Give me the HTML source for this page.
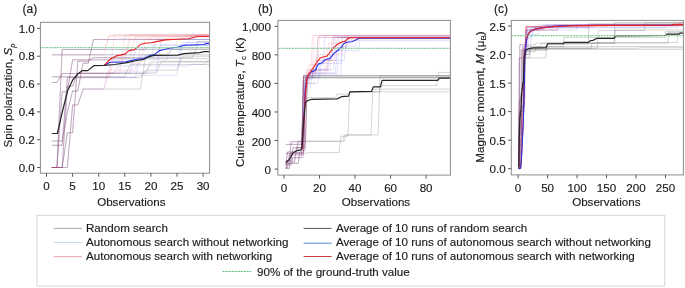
<!DOCTYPE html><html><head><meta charset="utf-8"><style>html,body{margin:0;padding:0;background:#fff;}svg{display:block;will-change:transform;}text{font-family:"Liberation Sans",sans-serif;fill:#1a1a1a;stroke:#1a1a1a;stroke-width:0.15px;}</style></head><body>
<svg width="685" height="288" viewBox="0 0 685 288">
<rect width="685" height="288" fill="#fff"/>
<defs>
<clipPath id="clipa"><rect x="40.90" y="22.80" width="168.20" height="149.90"/></clipPath>
<clipPath id="clipb"><rect x="278.40" y="20.90" width="171.50" height="153.70"/></clipPath>
<clipPath id="clipc"><rect x="511.80" y="20.90" width="171.10" height="153.50"/></clipPath>
</defs>
<g clip-path="url(#clipa)">
<polyline points="51.72,54.83 166.56,54.83 171.78,49.27 210.93,49.27" fill="none" stroke="rgba(110,110,110,0.29)" stroke-width="1.00" stroke-linejoin="round" />
<polyline points="51.72,76.81 124.80,76.81 130.02,64.43 210.93,64.43" fill="none" stroke="rgba(110,110,110,0.29)" stroke-width="1.00" stroke-linejoin="round" />
<polyline points="51.72,82.51 56.94,82.51 62.16,73.47 145.68,73.47 150.90,62.06 210.93,62.06" fill="none" stroke="rgba(110,110,110,0.29)" stroke-width="1.00" stroke-linejoin="round" />
<polyline points="51.72,141.07 62.16,141.07 67.38,111.86 72.60,90.99 77.82,90.99 83.04,63.18 88.26,63.18 93.48,39.53 210.93,39.53" fill="none" stroke="rgba(110,110,110,0.29)" stroke-width="1.00" stroke-linejoin="round" />
<polyline points="51.72,167.50 67.38,167.50 72.60,104.91 77.82,104.91 83.04,89.05 140.46,89.05 145.68,54.83 210.93,54.83" fill="none" stroke="rgba(110,110,110,0.29)" stroke-width="1.00" stroke-linejoin="round" />
<polyline points="51.72,167.50 56.94,167.50 62.16,49.54 210.93,49.54" fill="none" stroke="rgba(110,110,110,0.29)" stroke-width="1.00" stroke-linejoin="round" />
<polyline points="51.72,167.50 56.94,167.50 62.16,91.69 67.38,91.69 72.60,59.84 109.14,59.84 114.36,58.45 210.93,58.45" fill="none" stroke="rgba(110,110,110,0.29)" stroke-width="1.00" stroke-linejoin="round" />
<polyline points="51.72,167.50 62.16,167.50 67.38,86.13 72.60,86.13 77.82,73.19 156.12,73.19 161.34,61.37 210.93,61.37" fill="none" stroke="rgba(110,110,110,0.29)" stroke-width="1.00" stroke-linejoin="round" />
<polyline points="51.72,145.24 62.16,145.24 67.38,77.64 140.46,77.64 145.68,70.13 177.00,70.13 182.22,56.22 210.93,56.22" fill="none" stroke="rgba(110,110,110,0.29)" stroke-width="1.00" stroke-linejoin="round" />
<polyline points="51.72,167.50 62.16,167.50 67.38,132.72 72.60,132.72 77.82,61.23 88.26,61.23 93.48,57.61 192.66,57.61 197.88,41.48 210.93,41.48" fill="none" stroke="rgba(110,110,110,0.29)" stroke-width="1.00" stroke-linejoin="round" />
<polyline points="51.72,54.83 156.12,54.83 161.34,45.09 210.93,45.09" fill="none" stroke="rgba(60,60,230,0.15)" stroke-width="1.00" stroke-linejoin="round" />
<polyline points="51.72,76.81 135.24,76.81 140.46,75.28 177.00,75.28 182.22,42.31 210.93,42.31" fill="none" stroke="rgba(60,60,230,0.15)" stroke-width="1.00" stroke-linejoin="round" />
<polyline points="51.72,82.51 56.94,82.51 62.16,73.47 109.14,73.47 114.36,71.94 156.12,71.94 161.34,39.53 210.93,39.53" fill="none" stroke="rgba(60,60,230,0.15)" stroke-width="1.00" stroke-linejoin="round" />
<polyline points="51.72,141.07 62.16,141.07 67.38,111.86 72.60,90.99 77.82,90.99 83.04,63.18 88.26,63.18 93.48,39.53 187.44,39.53 192.66,35.36 210.93,35.36" fill="none" stroke="rgba(60,60,230,0.15)" stroke-width="1.00" stroke-linejoin="round" />
<polyline points="51.72,167.50 67.38,167.50 72.60,104.91 77.82,104.91 83.04,89.05 103.92,89.05 109.14,65.96 187.44,65.96 192.66,64.57 203.10,64.57 208.32,60.39 210.93,60.39" fill="none" stroke="rgba(60,60,230,0.15)" stroke-width="1.00" stroke-linejoin="round" />
<polyline points="51.72,167.50 56.94,167.50 62.16,49.54 145.68,49.54 150.90,45.09 210.93,45.09" fill="none" stroke="rgba(60,60,230,0.15)" stroke-width="1.00" stroke-linejoin="round" />
<polyline points="51.72,167.50 56.94,167.50 62.16,91.69 67.38,91.69 72.60,59.84 166.56,59.84 171.78,47.87 210.93,47.87" fill="none" stroke="rgba(60,60,230,0.15)" stroke-width="1.00" stroke-linejoin="round" />
<polyline points="51.72,167.50 62.16,167.50 67.38,86.13 72.60,86.13 77.82,73.19 130.02,73.19 135.24,49.27 182.22,49.27 187.44,42.31 210.93,42.31" fill="none" stroke="rgba(60,60,230,0.15)" stroke-width="1.00" stroke-linejoin="round" />
<polyline points="51.72,145.24 62.16,145.24 67.38,77.64 135.24,77.64 140.46,56.22 177.00,56.22 182.22,45.09 210.93,45.09" fill="none" stroke="rgba(60,60,230,0.15)" stroke-width="1.00" stroke-linejoin="round" />
<polyline points="51.72,167.50 62.16,167.50 67.38,132.72 72.60,132.72 77.82,61.23 88.26,61.23 93.48,57.61 150.90,57.61 156.12,39.53 210.93,39.53" fill="none" stroke="rgba(60,60,230,0.15)" stroke-width="1.00" stroke-linejoin="round" />
<polyline points="51.72,54.83 103.92,54.83 109.14,35.91 210.93,35.91" fill="none" stroke="rgba(230,60,80,0.15)" stroke-width="1.00" stroke-linejoin="round" />
<polyline points="51.72,76.81 109.14,76.81 114.36,34.52 210.93,34.52" fill="none" stroke="rgba(230,60,80,0.15)" stroke-width="1.00" stroke-linejoin="round" />
<polyline points="51.72,82.51 56.94,82.51 62.16,73.47 119.58,73.47 124.80,35.36 210.93,35.36" fill="none" stroke="rgba(230,60,80,0.15)" stroke-width="1.00" stroke-linejoin="round" />
<polyline points="51.72,141.07 62.16,141.07 67.38,111.86 72.60,90.99 77.82,90.99 83.04,63.18 88.26,63.18 93.48,39.53 114.36,39.53 119.58,38.83 192.66,38.83 197.88,34.52 210.93,34.52" fill="none" stroke="rgba(230,60,80,0.15)" stroke-width="1.00" stroke-linejoin="round" />
<polyline points="51.72,167.50 67.38,167.50 72.60,104.91 77.82,104.91 83.04,89.05 103.92,89.05 109.14,70.13 135.24,70.13 140.46,49.27 145.68,49.27 150.90,36.75 210.93,36.75" fill="none" stroke="rgba(230,60,80,0.15)" stroke-width="1.00" stroke-linejoin="round" />
<polyline points="51.72,167.50 56.94,167.50 62.16,49.54 103.92,49.54 109.14,35.91 210.93,35.91" fill="none" stroke="rgba(230,60,80,0.15)" stroke-width="1.00" stroke-linejoin="round" />
<polyline points="51.72,167.50 56.94,167.50 62.16,91.69 67.38,91.69 72.60,59.84 124.80,59.84 130.02,39.53 166.56,39.53 171.78,35.91 210.93,35.91" fill="none" stroke="rgba(230,60,80,0.15)" stroke-width="1.00" stroke-linejoin="round" />
<polyline points="51.72,167.50 62.16,167.50 67.38,86.13 72.60,86.13 77.82,73.19 114.36,73.19 119.58,63.18 140.46,63.18 145.68,39.53 182.22,39.53 187.44,35.36 210.93,35.36" fill="none" stroke="rgba(230,60,80,0.15)" stroke-width="1.00" stroke-linejoin="round" />
<polyline points="51.72,145.24 62.16,145.24 67.38,77.64 109.14,77.64 114.36,56.22 124.80,56.22 130.02,34.52 210.93,34.52" fill="none" stroke="rgba(230,60,80,0.15)" stroke-width="1.00" stroke-linejoin="round" />
<polyline points="51.72,167.50 62.16,167.50 67.38,132.72 72.60,132.72 77.82,61.23 88.26,61.23 93.48,57.61 130.02,57.61 135.24,36.75 210.93,36.75" fill="none" stroke="rgba(230,60,80,0.15)" stroke-width="1.00" stroke-linejoin="round" />
<polyline points="104.20,65.40 110.00,62.30 125.60,61.90 137.00,59.30 143.90,58.50 149.10,55.90 154.20,54.60 159.50,50.80 169.10,48.30 178.60,47.00 184.40,45.20 204.00,44.50 206.00,43.60 210.00,43.40" fill="none" stroke="#2633e8" stroke-width="1.10" stroke-linejoin="round" />
<polyline points="104.20,65.40 110.00,59.30 116.10,55.90 124.80,54.10 129.10,50.60 134.30,49.80 140.40,44.60 144.70,43.20 150.80,42.80 154.00,42.10 165.30,39.90 176.70,39.30 188.20,38.70 197.70,36.50 210.00,36.50" fill="none" stroke="#e82424" stroke-width="1.10" stroke-linejoin="round" />
<polyline points="51.80,133.50 57.30,133.50 62.30,112.00 67.50,91.00 72.70,80.00 77.80,74.00 82.40,70.60 87.70,70.60 93.70,65.70 104.20,65.40 114.40,64.50 125.60,62.80 137.00,60.50 143.90,59.30 149.10,56.70 154.00,55.30 178.00,55.20 184.00,53.60 200.00,52.70 204.00,51.70 210.00,51.70" fill="none" stroke="#262626" stroke-width="1.20" stroke-linejoin="round" />
<line x1="40.40" y1="47.65" x2="209.60" y2="47.65" stroke="#86cc9e" stroke-width="1.3" stroke-dasharray="2,0.8"/>
</g>
<g clip-path="url(#clipb)">
<polyline points="285.78,144.40 301.76,144.40 303.54,75.85 452.75,75.85" fill="none" stroke="rgba(110,110,110,0.29)" stroke-width="1.00" stroke-linejoin="round" />
<polyline points="285.78,153.39 305.32,153.39 307.09,152.54 339.07,152.54 340.84,136.26 347.95,136.26 349.72,91.85 452.75,91.85" fill="none" stroke="rgba(110,110,110,0.29)" stroke-width="1.00" stroke-linejoin="round" />
<polyline points="285.78,169.10 287.55,160.53 289.33,160.53 291.11,141.68 303.54,141.68 305.32,77.71 452.75,77.71" fill="none" stroke="rgba(110,110,110,0.29)" stroke-width="1.00" stroke-linejoin="round" />
<polyline points="285.78,167.67 287.55,167.67 289.33,154.82 303.54,154.82 305.32,77.71 452.75,77.71" fill="none" stroke="rgba(110,110,110,0.29)" stroke-width="1.00" stroke-linejoin="round" />
<polyline points="285.78,164.82 291.11,164.82 292.88,157.68 301.76,157.68 303.54,75.85 452.75,75.85" fill="none" stroke="rgba(110,110,110,0.29)" stroke-width="1.00" stroke-linejoin="round" />
<polyline points="285.78,161.96 294.66,161.96 296.43,147.68 305.32,147.68 307.09,77.71 452.75,77.71" fill="none" stroke="rgba(110,110,110,0.29)" stroke-width="1.00" stroke-linejoin="round" />
<polyline points="285.78,160.53 291.11,160.53 292.88,147.68 303.54,147.68 305.32,97.70 335.51,97.70 337.29,94.13 347.95,94.13 349.72,91.85 379.92,91.85 381.70,85.56 436.76,85.56 438.54,72.42 452.75,72.42" fill="none" stroke="rgba(110,110,110,0.29)" stroke-width="1.00" stroke-linejoin="round" />
<polyline points="285.78,168.39 289.33,168.39 291.11,152.54 303.54,152.54 305.32,141.25 342.62,141.25 344.39,134.97 371.04,134.97 372.81,89.13 452.75,89.13" fill="none" stroke="rgba(110,110,110,0.29)" stroke-width="1.00" stroke-linejoin="round" />
<polyline points="285.78,163.39 298.21,163.39 299.99,150.54 301.76,150.54 303.54,75.85 452.75,75.85" fill="none" stroke="rgba(110,110,110,0.29)" stroke-width="1.00" stroke-linejoin="round" />
<polyline points="285.78,165.53 287.55,151.96 296.43,151.96 298.21,141.25 307.09,141.25 308.87,141.25 344.39,141.25 346.17,134.97 378.14,134.97 379.92,75.85 452.75,75.85" fill="none" stroke="rgba(110,110,110,0.29)" stroke-width="1.00" stroke-linejoin="round" />
<polyline points="285.78,144.40 301.76,144.40 303.54,76.28 315.97,76.28 317.75,37.44 452.75,37.44" fill="none" stroke="rgba(60,60,230,0.15)" stroke-width="1.00" stroke-linejoin="round" />
<polyline points="285.78,153.39 301.76,153.39 303.54,83.42 308.87,83.42 310.64,69.57 333.74,69.57 335.51,37.44 452.75,37.44" fill="none" stroke="rgba(60,60,230,0.15)" stroke-width="1.00" stroke-linejoin="round" />
<polyline points="285.78,169.10 287.55,160.53 289.33,160.53 291.11,141.68 303.54,141.68 305.32,77.71 312.42,77.71 314.20,64.86 323.08,64.86 324.85,35.44 452.75,35.44" fill="none" stroke="rgba(60,60,230,0.15)" stroke-width="1.00" stroke-linejoin="round" />
<polyline points="285.78,167.67 287.55,167.67 289.33,154.82 301.76,154.82 303.54,80.56 307.09,80.56 308.87,73.14 337.29,73.14 339.07,37.44 452.75,37.44" fill="none" stroke="rgba(60,60,230,0.15)" stroke-width="1.00" stroke-linejoin="round" />
<polyline points="285.78,164.82 291.11,164.82 292.88,157.68 303.54,157.68 305.32,74.85 340.84,74.85 342.62,37.44 452.75,37.44" fill="none" stroke="rgba(60,60,230,0.15)" stroke-width="1.00" stroke-linejoin="round" />
<polyline points="285.78,161.96 294.66,161.96 296.43,147.68 303.54,147.68 305.32,86.28 310.64,86.28 312.42,70.57 326.63,70.57 328.41,60.57 344.39,60.57 346.17,37.44 452.75,37.44" fill="none" stroke="rgba(60,60,230,0.15)" stroke-width="1.00" stroke-linejoin="round" />
<polyline points="285.78,160.53 291.11,160.53 292.88,147.68 301.76,147.68 303.54,77.71 319.53,77.71 321.30,59.14 331.96,59.14 333.74,36.30 452.75,36.30" fill="none" stroke="rgba(60,60,230,0.15)" stroke-width="1.00" stroke-linejoin="round" />
<polyline points="285.78,168.39 289.33,168.39 291.11,152.54 303.54,152.54 305.32,83.42 317.75,83.42 319.53,63.43 340.84,63.43 342.62,46.29 355.05,46.29 356.83,37.44 452.75,37.44" fill="none" stroke="rgba(60,60,230,0.15)" stroke-width="1.00" stroke-linejoin="round" />
<polyline points="285.78,163.39 298.21,163.39 299.99,150.54 305.32,150.54 307.09,79.14 312.42,79.14 314.20,69.14 328.41,69.14 330.18,50.58 358.60,50.58 360.38,37.44 452.75,37.44" fill="none" stroke="rgba(60,60,230,0.15)" stroke-width="1.00" stroke-linejoin="round" />
<polyline points="285.78,165.53 287.55,151.96 296.43,151.96 298.21,141.25 305.32,141.25 307.09,89.13 308.87,73.14 335.51,73.14 337.29,47.72 346.17,47.72 347.95,40.58 452.75,40.58" fill="none" stroke="rgba(60,60,230,0.15)" stroke-width="1.00" stroke-linejoin="round" />
<polyline points="285.78,144.40 301.76,144.40 303.54,76.28 310.64,76.28 312.42,35.44 452.75,35.44" fill="none" stroke="rgba(230,60,80,0.15)" stroke-width="1.00" stroke-linejoin="round" />
<polyline points="285.78,153.39 303.54,153.39 305.32,83.42 307.09,69.14 315.97,69.14 317.75,37.44 452.75,37.44" fill="none" stroke="rgba(230,60,80,0.15)" stroke-width="1.00" stroke-linejoin="round" />
<polyline points="285.78,169.10 287.55,160.53 289.33,160.53 291.11,141.68 301.76,141.68 303.54,77.71 307.09,77.71 308.87,64.86 317.75,64.86 319.53,35.44 452.75,35.44" fill="none" stroke="rgba(230,60,80,0.15)" stroke-width="1.00" stroke-linejoin="round" />
<polyline points="285.78,167.67 287.55,167.67 289.33,154.82 303.54,154.82 305.32,80.56 307.09,70.57 330.18,70.57 331.96,37.44 452.75,37.44" fill="none" stroke="rgba(230,60,80,0.15)" stroke-width="1.00" stroke-linejoin="round" />
<polyline points="285.78,164.82 291.11,164.82 292.88,157.68 301.76,157.68 303.54,74.85 312.42,74.85 314.20,60.57 335.51,60.57 337.29,37.44 452.75,37.44" fill="none" stroke="rgba(230,60,80,0.15)" stroke-width="1.00" stroke-linejoin="round" />
<polyline points="285.78,161.96 294.66,161.96 296.43,147.68 305.32,147.68 307.09,86.28 308.87,72.00 315.97,72.00 317.75,54.86 340.84,54.86 342.62,37.44 452.75,37.44" fill="none" stroke="rgba(230,60,80,0.15)" stroke-width="1.00" stroke-linejoin="round" />
<polyline points="285.78,160.53 291.11,160.53 292.88,147.68 301.76,147.68 303.54,77.71 312.42,77.71 314.20,35.44 452.75,35.44" fill="none" stroke="rgba(230,60,80,0.15)" stroke-width="1.00" stroke-linejoin="round" />
<polyline points="285.78,168.39 289.33,168.39 291.11,152.54 303.54,152.54 305.32,83.42 314.20,83.42 315.97,60.57 331.96,60.57 333.74,37.44 452.75,37.44" fill="none" stroke="rgba(230,60,80,0.15)" stroke-width="1.00" stroke-linejoin="round" />
<polyline points="285.78,163.39 298.21,163.39 299.99,150.54 303.54,150.54 305.32,79.14 308.87,79.14 310.64,69.57 324.85,69.57 326.63,47.72 346.17,47.72 347.95,37.44 452.75,37.44" fill="none" stroke="rgba(230,60,80,0.15)" stroke-width="1.00" stroke-linejoin="round" />
<polyline points="285.78,165.53 287.55,151.96 296.43,151.96 298.21,141.25 305.32,141.25 307.09,89.13 308.87,73.14 326.63,73.14 328.41,43.44 349.72,43.44 351.50,39.15 452.75,39.15" fill="none" stroke="rgba(230,60,80,0.15)" stroke-width="1.00" stroke-linejoin="round" />
<polyline points="301.80,148.90 303.50,122.00 305.30,90.00 307.10,77.00 308.90,74.50 311.50,71.70 315.00,70.80 318.40,63.90 321.90,63.00 325.40,59.50 329.70,58.60 334.00,53.40 338.40,50.00 341.90,46.50 344.40,43.20 346.50,42.20 351.70,41.70 355.80,40.10 359.00,38.30 452.00,38.30" fill="none" stroke="#2633e8" stroke-width="1.10" stroke-linejoin="round" />
<polyline points="301.80,148.90 303.50,126.00 305.30,96.00 307.10,79.00 308.90,73.50 310.50,71.80 312.40,69.00 317.60,61.25 320.20,57.80 327.10,56.00 332.30,49.10 336.70,44.80 341.00,42.20 345.40,41.10 348.00,38.50 351.70,37.70 452.00,37.70" fill="none" stroke="#e82424" stroke-width="1.10" stroke-linejoin="round" />
<polyline points="285.80,162.40 287.40,161.20 289.20,159.30 290.80,157.00 292.20,154.50 293.50,152.50 295.30,151.30 297.10,150.70 299.50,150.20 301.80,148.90 303.50,124.00 305.30,103.00 307.10,100.90 311.50,99.30 337.10,98.90 341.50,96.70 348.60,96.20 349.80,91.80 371.50,91.40 373.30,86.90 380.40,86.90 382.10,80.30 437.80,80.30 439.50,78.20 452.00,78.20" fill="none" stroke="#262626" stroke-width="1.20" stroke-linejoin="round" />
<line x1="277.90" y1="48.3" x2="450.40" y2="48.3" stroke="#86cc9e" stroke-width="1.3" stroke-dasharray="2,0.8"/>
</g>
<g clip-path="url(#clipc)">
<polyline points="518.69,168.70 519.28,57.96 545.81,57.96 546.40,44.27 588.26,44.27 588.85,23.72 686.14,23.72" fill="none" stroke="rgba(110,110,110,0.29)" stroke-width="1.00" stroke-linejoin="round" />
<polyline points="518.69,168.70 519.28,168.70 519.87,44.84 535.20,44.84 535.79,43.12 614.20,43.12 614.79,22.58 686.14,22.58" fill="none" stroke="rgba(110,110,110,0.29)" stroke-width="1.00" stroke-linejoin="round" />
<polyline points="518.69,165.85 519.28,100.20 521.05,100.20 521.64,88.79 523.41,88.79 524.00,49.97 546.99,49.97 547.58,46.55 686.14,46.55" fill="none" stroke="rgba(110,110,110,0.29)" stroke-width="1.00" stroke-linejoin="round" />
<polyline points="518.69,168.70 519.87,168.70 520.46,114.47 523.41,114.47 524.00,48.26 597.11,48.26 597.70,42.55 677.29,42.55 677.88,33.42 686.14,33.42" fill="none" stroke="rgba(110,110,110,0.29)" stroke-width="1.00" stroke-linejoin="round" />
<polyline points="518.69,162.99 519.28,117.33 520.46,117.33 521.05,94.50 523.41,94.50 524.00,54.54 529.30,54.54 529.89,49.40 686.14,49.40" fill="none" stroke="rgba(110,110,110,0.29)" stroke-width="1.00" stroke-linejoin="round" />
<polyline points="518.69,166.99 519.28,166.99 519.87,140.16 521.64,140.16 522.23,105.91 524.59,105.91 525.18,57.96 529.89,57.96 530.48,48.26 638.38,48.26 638.97,47.69 686.14,47.69" fill="none" stroke="rgba(110,110,110,0.29)" stroke-width="1.00" stroke-linejoin="round" />
<polyline points="518.69,168.70 519.28,111.62 522.23,111.62 522.82,46.55 541.09,46.55 541.68,43.12 597.70,43.12 598.29,30.57 644.27,30.57 644.86,22.58 686.14,22.58" fill="none" stroke="rgba(110,110,110,0.29)" stroke-width="1.00" stroke-linejoin="round" />
<polyline points="518.69,168.70 519.28,168.70 519.87,145.87 521.05,145.87 521.64,111.62 524.00,111.62 524.59,51.69 535.20,51.69 535.79,46.55 563.50,46.55 564.09,37.42 664.91,37.42 665.50,31.71 686.14,31.71" fill="none" stroke="rgba(110,110,110,0.29)" stroke-width="1.00" stroke-linejoin="round" />
<polyline points="518.69,167.56 519.28,134.45 521.05,134.45 521.64,49.97 546.99,49.97 547.58,48.26 591.21,48.26 591.80,43.12 667.86,43.12 668.45,32.28 686.14,32.28" fill="none" stroke="rgba(110,110,110,0.29)" stroke-width="1.00" stroke-linejoin="round" />
<polyline points="518.69,168.70 519.87,168.70 520.46,151.58 521.05,151.58 521.64,114.47 523.41,114.47 524.00,54.54 529.30,54.54 529.89,48.26 546.99,48.26 547.58,43.12 614.79,43.12 615.38,30.00 686.14,30.00" fill="none" stroke="rgba(110,110,110,0.29)" stroke-width="1.00" stroke-linejoin="round" />
<polyline points="518.69,168.70 519.28,57.96 524.59,57.96 525.18,37.42 526.94,37.42 527.53,27.71 535.20,27.71 535.79,25.20 686.14,25.20" fill="none" stroke="rgba(60,60,230,0.15)" stroke-width="1.00" stroke-linejoin="round" />
<polyline points="518.69,168.70 519.28,168.70 519.87,44.84 525.76,44.84 526.35,30.00 541.09,30.00 541.68,25.20 686.14,25.20" fill="none" stroke="rgba(60,60,230,0.15)" stroke-width="1.00" stroke-linejoin="round" />
<polyline points="518.69,165.85 519.28,100.20 521.05,100.20 521.64,88.79 523.41,88.79 524.00,49.97 525.18,49.97 525.76,34.56 529.30,34.56 529.89,27.71 552.89,27.71 553.48,25.20 686.14,25.20" fill="none" stroke="rgba(60,60,230,0.15)" stroke-width="1.00" stroke-linejoin="round" />
<polyline points="518.69,168.70 519.87,168.70 520.46,114.47 523.41,114.47 524.00,48.26 526.35,48.26 526.94,30.00 535.20,30.00 535.79,27.71 588.26,27.71 588.85,25.20 686.14,25.20" fill="none" stroke="rgba(60,60,230,0.15)" stroke-width="1.00" stroke-linejoin="round" />
<polyline points="518.69,162.99 519.28,117.33 520.46,117.33 521.05,94.50 523.41,94.50 524.00,54.54 525.18,54.54 525.76,27.71 545.22,27.71 545.81,25.20 686.14,25.20" fill="none" stroke="rgba(60,60,230,0.15)" stroke-width="1.00" stroke-linejoin="round" />
<polyline points="518.69,166.99 519.28,166.99 519.87,140.16 521.64,140.16 522.23,105.91 524.59,105.91 525.18,57.96 525.76,57.96 526.35,37.42 532.25,37.42 532.84,30.00 576.47,30.00 577.06,25.20 686.14,25.20" fill="none" stroke="rgba(60,60,230,0.15)" stroke-width="1.00" stroke-linejoin="round" />
<polyline points="518.69,168.70 519.28,111.62 522.23,111.62 522.82,46.55 526.94,46.55 527.53,30.00 544.04,30.00 544.63,25.20 686.14,25.20" fill="none" stroke="rgba(60,60,230,0.15)" stroke-width="1.00" stroke-linejoin="round" />
<polyline points="518.69,168.70 519.28,168.70 519.87,145.87 521.05,145.87 521.64,111.62 524.00,111.62 524.59,51.69 528.12,51.69 528.71,34.56 538.15,34.56 538.74,27.71 678.47,27.71 679.06,24.29 686.14,24.29" fill="none" stroke="rgba(60,60,230,0.15)" stroke-width="1.00" stroke-linejoin="round" />
<polyline points="518.69,167.56 519.28,134.45 521.05,134.45 521.64,49.97 530.48,49.97 531.07,30.00 558.78,30.00 559.37,25.20 686.14,25.20" fill="none" stroke="rgba(60,60,230,0.15)" stroke-width="1.00" stroke-linejoin="round" />
<polyline points="518.69,168.70 519.87,168.70 520.46,151.58 521.05,151.58 521.64,114.47 523.41,114.47 524.00,54.54 526.94,54.54 527.53,31.71 534.02,31.71 534.61,27.71 664.91,27.71 665.50,25.20 686.14,25.20" fill="none" stroke="rgba(60,60,230,0.15)" stroke-width="1.00" stroke-linejoin="round" />
<polyline points="518.69,168.70 519.28,57.96 525.76,57.96 526.35,26.57 576.47,26.57 577.06,25.20 686.14,25.20" fill="none" stroke="rgba(230,60,80,0.15)" stroke-width="1.00" stroke-linejoin="round" />
<polyline points="518.69,168.70 519.28,168.70 519.87,44.84 525.76,44.84 526.35,30.00 557.01,30.00 557.60,26.57 605.95,26.57 606.54,25.20 686.14,25.20" fill="none" stroke="rgba(230,60,80,0.15)" stroke-width="1.00" stroke-linejoin="round" />
<polyline points="518.69,165.85 519.28,100.20 521.05,100.20 521.64,88.79 523.41,88.79 524.00,49.97 525.18,49.97 525.76,26.57 571.75,26.57 572.34,25.20 686.14,25.20" fill="none" stroke="rgba(230,60,80,0.15)" stroke-width="1.00" stroke-linejoin="round" />
<polyline points="518.69,168.70 519.87,168.70 520.46,114.47 523.41,114.47 524.00,48.26 525.76,48.26 526.35,26.57 552.89,26.57 553.48,25.20 686.14,25.20" fill="none" stroke="rgba(230,60,80,0.15)" stroke-width="1.00" stroke-linejoin="round" />
<polyline points="518.69,162.99 519.28,117.33 520.46,117.33 521.05,94.50 523.41,94.50 524.00,54.54 525.18,54.54 525.76,26.57 541.09,26.57 541.68,25.20 686.14,25.20" fill="none" stroke="rgba(230,60,80,0.15)" stroke-width="1.00" stroke-linejoin="round" />
<polyline points="518.69,166.99 519.28,166.99 519.87,140.16 521.64,140.16 522.23,105.91 524.59,105.91 525.18,57.96 525.76,57.96 526.35,30.00 557.01,30.00 557.60,26.57 594.16,26.57 594.75,25.20 686.14,25.20" fill="none" stroke="rgba(230,60,80,0.15)" stroke-width="1.00" stroke-linejoin="round" />
<polyline points="518.69,168.70 519.28,111.62 522.23,111.62 522.82,46.55 525.18,46.55 525.76,26.57 564.68,26.57 565.27,25.20 686.14,25.20" fill="none" stroke="rgba(230,60,80,0.15)" stroke-width="1.00" stroke-linejoin="round" />
<polyline points="518.69,168.70 519.28,168.70 519.87,145.87 521.05,145.87 521.64,111.62 524.00,111.62 524.59,51.69 525.76,51.69 526.35,26.57 546.99,26.57 547.58,25.20 686.14,25.20" fill="none" stroke="rgba(230,60,80,0.15)" stroke-width="1.00" stroke-linejoin="round" />
<polyline points="518.69,167.56 519.28,134.45 521.05,134.45 521.64,49.97 525.18,49.97 525.76,30.00 532.25,30.00 532.84,26.57 678.47,26.57 679.06,22.29 686.14,22.29" fill="none" stroke="rgba(230,60,80,0.15)" stroke-width="1.00" stroke-linejoin="round" />
<polyline points="518.69,168.70 519.87,168.70 520.46,151.58 521.05,151.58 521.64,114.47 523.41,114.47 524.00,54.54 525.76,54.54 526.35,26.57 588.26,26.57 588.85,25.20 686.14,25.20" fill="none" stroke="rgba(230,60,80,0.15)" stroke-width="1.00" stroke-linejoin="round" />
<polyline points="518.70,168.50 520.60,168.20 521.30,160.00 522.20,141.00 523.00,125.00 523.50,110.00 524.00,90.00 524.40,70.00 524.60,58.00 525.50,46.00 526.80,38.40" fill="none" stroke="#e82424" stroke-width="1.10" stroke-linejoin="round" />
<polyline points="518.70,168.50 520.60,168.20 521.40,160.00 522.40,141.00 523.20,125.00 523.70,110.00 524.20,90.00 524.60,70.00 524.90,58.00 525.80,45.00 527.00,37.40 528.80,33.00 531.40,30.40 534.90,29.10 539.20,28.20 546.00,27.20 554.70,26.30 560.00,25.90 571.00,25.50 600.00,25.30 672.50,25.25 673.50,24.50 685.00,24.50" fill="none" stroke="#2633e8" stroke-width="1.10" stroke-linejoin="round" />
<polyline points="526.80,38.40 528.70,33.40 531.30,30.80 534.80,29.40 539.10,28.40 546.00,27.50 554.70,26.60 560.00,26.30 571.00,25.70 600.00,25.35 672.50,25.20 673.50,24.40 685.00,24.40" fill="none" stroke="#e82424" stroke-width="1.10" stroke-linejoin="round" />
<polyline points="518.69,167.56 519.28,136.34 519.87,118.98 520.46,111.85 521.05,109.57 521.64,92.84 522.23,89.42 522.82,82.91 523.41,82.91 524.00,62.42 524.59,56.42 525.18,51.63 526.10,49.90 528.90,48.50 533.00,47.80 546.00,47.60 547.80,43.75 563.40,43.75 564.30,42.40 588.60,42.40 590.30,40.60 592.90,40.40 597.00,38.30 614.30,38.30 615.30,35.80 665.70,35.50 667.00,34.20 678.90,34.20 680.30,33.10 685.00,33.10" fill="none" stroke="#262626" stroke-width="1.20" stroke-linejoin="round" />
<line x1="511.30" y1="35.6" x2="683.40" y2="35.6" stroke="#86cc9e" stroke-width="1.3" stroke-dasharray="2,0.8"/>
</g>
<rect x="40.40" y="22.30" width="169.20" height="150.90" fill="none" stroke="#8c8c8c" stroke-width="1"/>
<line x1="46.50" y1="173.20" x2="46.50" y2="176.70" stroke="#555" stroke-width="1"/>
<text x="46.50" y="190.00" font-size="11.6" text-anchor="middle">0</text>
<line x1="72.60" y1="173.20" x2="72.60" y2="176.70" stroke="#555" stroke-width="1"/>
<text x="72.60" y="190.00" font-size="11.6" text-anchor="middle">5</text>
<line x1="98.70" y1="173.20" x2="98.70" y2="176.70" stroke="#555" stroke-width="1"/>
<text x="98.70" y="190.00" font-size="11.6" text-anchor="middle">10</text>
<line x1="124.80" y1="173.20" x2="124.80" y2="176.70" stroke="#555" stroke-width="1"/>
<text x="124.80" y="190.00" font-size="11.6" text-anchor="middle">15</text>
<line x1="150.90" y1="173.20" x2="150.90" y2="176.70" stroke="#555" stroke-width="1"/>
<text x="150.90" y="190.00" font-size="11.6" text-anchor="middle">20</text>
<line x1="177.00" y1="173.20" x2="177.00" y2="176.70" stroke="#555" stroke-width="1"/>
<text x="177.00" y="190.00" font-size="11.6" text-anchor="middle">25</text>
<line x1="203.10" y1="173.20" x2="203.10" y2="176.70" stroke="#555" stroke-width="1"/>
<text x="203.10" y="190.00" font-size="11.6" text-anchor="middle">30</text>
<line x1="37.10" y1="167.50" x2="40.40" y2="167.50" stroke="#555" stroke-width="1"/>
<text x="34.80" y="171.60" font-size="11.6" text-anchor="end">0.0</text>
<line x1="37.10" y1="139.68" x2="40.40" y2="139.68" stroke="#555" stroke-width="1"/>
<text x="34.80" y="143.78" font-size="11.6" text-anchor="end">0.2</text>
<line x1="37.10" y1="111.86" x2="40.40" y2="111.86" stroke="#555" stroke-width="1"/>
<text x="34.80" y="115.96" font-size="11.6" text-anchor="end">0.4</text>
<line x1="37.10" y1="84.04" x2="40.40" y2="84.04" stroke="#555" stroke-width="1"/>
<text x="34.80" y="88.14" font-size="11.6" text-anchor="end">0.6</text>
<line x1="37.10" y1="56.22" x2="40.40" y2="56.22" stroke="#555" stroke-width="1"/>
<text x="34.80" y="60.32" font-size="11.6" text-anchor="end">0.8</text>
<line x1="37.10" y1="28.40" x2="40.40" y2="28.40" stroke="#555" stroke-width="1"/>
<text x="34.80" y="32.50" font-size="11.6" text-anchor="end">1.0</text>
<rect x="277.90" y="20.40" width="172.50" height="154.70" fill="none" stroke="#8c8c8c" stroke-width="1"/>
<line x1="284.00" y1="175.10" x2="284.00" y2="178.60" stroke="#555" stroke-width="1"/>
<text x="284.00" y="191.60" font-size="11.6" text-anchor="middle">0</text>
<line x1="319.53" y1="175.10" x2="319.53" y2="178.60" stroke="#555" stroke-width="1"/>
<text x="319.53" y="191.60" font-size="11.6" text-anchor="middle">20</text>
<line x1="355.05" y1="175.10" x2="355.05" y2="178.60" stroke="#555" stroke-width="1"/>
<text x="355.05" y="191.60" font-size="11.6" text-anchor="middle">40</text>
<line x1="390.58" y1="175.10" x2="390.58" y2="178.60" stroke="#555" stroke-width="1"/>
<text x="390.58" y="191.60" font-size="11.6" text-anchor="middle">60</text>
<line x1="426.10" y1="175.10" x2="426.10" y2="178.60" stroke="#555" stroke-width="1"/>
<text x="426.10" y="191.60" font-size="11.6" text-anchor="middle">80</text>
<line x1="274.60" y1="169.10" x2="277.90" y2="169.10" stroke="#555" stroke-width="1"/>
<text x="271.00" y="174.10" font-size="11.6" text-anchor="end">0</text>
<line x1="274.60" y1="140.54" x2="277.90" y2="140.54" stroke="#555" stroke-width="1"/>
<text x="271.00" y="145.54" font-size="11.6" text-anchor="end">200</text>
<line x1="274.60" y1="111.98" x2="277.90" y2="111.98" stroke="#555" stroke-width="1"/>
<text x="271.00" y="116.98" font-size="11.6" text-anchor="end">400</text>
<line x1="274.60" y1="83.42" x2="277.90" y2="83.42" stroke="#555" stroke-width="1"/>
<text x="271.00" y="88.42" font-size="11.6" text-anchor="end">600</text>
<line x1="274.60" y1="54.86" x2="277.90" y2="54.86" stroke="#555" stroke-width="1"/>
<text x="271.00" y="59.86" font-size="11.6" text-anchor="end">800</text>
<line x1="274.60" y1="26.30" x2="277.90" y2="26.30" stroke="#555" stroke-width="1"/>
<text x="271.00" y="31.30" font-size="11.6" text-anchor="end">1,000</text>
<rect x="511.30" y="20.40" width="172.10" height="154.50" fill="none" stroke="#8c8c8c" stroke-width="1"/>
<line x1="518.10" y1="174.90" x2="518.10" y2="178.40" stroke="#555" stroke-width="1"/>
<text x="518.10" y="191.60" font-size="11.6" text-anchor="middle">0</text>
<line x1="547.58" y1="174.90" x2="547.58" y2="178.40" stroke="#555" stroke-width="1"/>
<text x="547.58" y="191.60" font-size="11.6" text-anchor="middle">50</text>
<line x1="577.06" y1="174.90" x2="577.06" y2="178.40" stroke="#555" stroke-width="1"/>
<text x="577.06" y="191.60" font-size="11.6" text-anchor="middle">100</text>
<line x1="606.54" y1="174.90" x2="606.54" y2="178.40" stroke="#555" stroke-width="1"/>
<text x="606.54" y="191.60" font-size="11.6" text-anchor="middle">150</text>
<line x1="636.02" y1="174.90" x2="636.02" y2="178.40" stroke="#555" stroke-width="1"/>
<text x="636.02" y="191.60" font-size="11.6" text-anchor="middle">200</text>
<line x1="665.50" y1="174.90" x2="665.50" y2="178.40" stroke="#555" stroke-width="1"/>
<text x="665.50" y="191.60" font-size="11.6" text-anchor="middle">250</text>
<line x1="508.00" y1="168.70" x2="511.30" y2="168.70" stroke="#555" stroke-width="1"/>
<text x="505.70" y="173.40" font-size="11.6" text-anchor="end">0.0</text>
<line x1="508.00" y1="140.16" x2="511.30" y2="140.16" stroke="#555" stroke-width="1"/>
<text x="505.70" y="144.86" font-size="11.6" text-anchor="end">0.5</text>
<line x1="508.00" y1="111.62" x2="511.30" y2="111.62" stroke="#555" stroke-width="1"/>
<text x="505.70" y="116.32" font-size="11.6" text-anchor="end">1.0</text>
<line x1="508.00" y1="83.08" x2="511.30" y2="83.08" stroke="#555" stroke-width="1"/>
<text x="505.70" y="87.78" font-size="11.6" text-anchor="end">1.5</text>
<line x1="508.00" y1="54.54" x2="511.30" y2="54.54" stroke="#555" stroke-width="1"/>
<text x="505.70" y="59.24" font-size="11.6" text-anchor="end">2.0</text>
<line x1="508.00" y1="26.00" x2="511.30" y2="26.00" stroke="#555" stroke-width="1"/>
<text x="505.70" y="30.70" font-size="11.6" text-anchor="end">2.5</text>
<text x="22.5" y="13.0" font-size="12">(a)</text>
<text x="258" y="13.0" font-size="12">(b)</text>
<text x="494" y="13.0" font-size="12">(c)</text>
<text x="131.3" y="206.3" font-size="11.6" text-anchor="middle">Observations</text>
<text x="376.0" y="206.3" font-size="11.6" text-anchor="middle">Observations</text>
<text x="606.3" y="206.3" font-size="11.6" text-anchor="middle">Observations</text>
<text transform="translate(12.0,95.5) rotate(-90)" font-size="11.6" text-anchor="middle">Spin polarization, <tspan font-style="italic">S</tspan><tspan font-size="7.5" font-style="italic" dy="3">p</tspan></text>
<text transform="translate(243.8,102.2) rotate(-90)" font-size="11.6" text-anchor="middle">Curie temperature, <tspan font-style="italic">T</tspan><tspan font-size="8" dy="2">c</tspan><tspan dy="-2"> (K)</tspan></text>
<text transform="translate(483.5,97) rotate(-90)" font-size="11.6" text-anchor="middle">Magnetic moment, <tspan font-style="italic">M</tspan> (μ<tspan font-size="8" dy="2">B</tspan><tspan dy="-2">)</tspan></text>
<rect x="37.0" y="215.3" width="627.7" height="70.8" fill="none" stroke="#d6d6d6" stroke-width="1"/>
<line x1="53.7" y1="228.40" x2="82" y2="228.40" stroke="#aaaaaa" stroke-width="1"/>
<text x="86" y="232.2" font-size="11.6">Random search</text>
<line x1="53.7" y1="242.50" x2="82" y2="242.50" stroke="#c6dcef" stroke-width="1"/>
<text x="86" y="246.3" font-size="11.6">Autonomous search without networking</text>
<line x1="53.7" y1="256.70" x2="82" y2="256.70" stroke="#e6a2aa" stroke-width="1"/>
<text x="86" y="260.3" font-size="11.6">Autonomous search with networking</text>
<line x1="303.6" y1="228.40" x2="331.7" y2="228.40" stroke="#555555" stroke-width="1"/>
<text x="336" y="232.2" font-size="11.6">Average of 10 runs of random search</text>
<line x1="303.6" y1="243.20" x2="331.7" y2="243.20" stroke="#5588e0" stroke-width="1"/>
<text x="336" y="246.3" font-size="11.6">Average of 10 runs of autonomous search without networking</text>
<line x1="303.6" y1="256.50" x2="331.7" y2="256.50" stroke="#cc4044" stroke-width="1"/>
<text x="336" y="260.3" font-size="11.6">Average of 10 runs of autonomous search with networking</text>
<line x1="222.7" y1="271.5" x2="251.1" y2="271.5" stroke="#5cba7e" stroke-width="1" stroke-dasharray="2,1"/>
<text x="257" y="275.5" font-size="11.6">90% of the ground-truth value</text>
</svg></body></html>
